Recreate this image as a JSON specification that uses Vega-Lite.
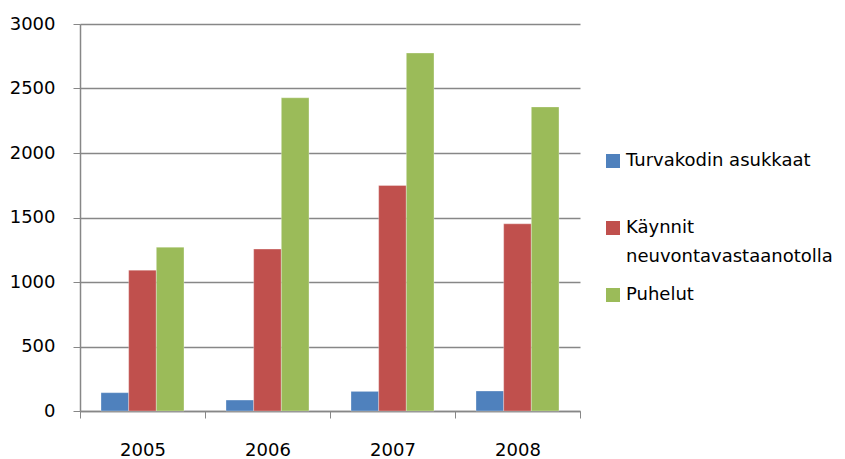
{
  "$schema": "https://vega.github.io/schema/vega-lite/v6.json",
  "width": 500,
  "height": 387,
  "autosize": {"type": "none"},
  "padding": {"left": 80, "top": 24, "right": 265, "bottom": 48},
  "background": "white",
  "config": {
    "view": {"stroke": null},
    "font": "DejaVu Sans",
    "style": {"guide-label": {"lineHeight": 29}},
    "axis": {"labelFont": "DejaVu Sans", "labelFontSize": 18, "labelColor": "#000000", "domainColor": "#878787", "tickColor": "#878787", "gridColor": "#878787"}
  },
  "data": {
    "values": [
      {"year": "2005", "series": "Turvakodin asukkaat", "value": 142},
      {"year": "2005", "series": "Käynnit neuvontavastaanotolla", "value": 1092},
      {"year": "2005", "series": "Puhelut", "value": 1270},
      {"year": "2006", "series": "Turvakodin asukkaat", "value": 85},
      {"year": "2006", "series": "Käynnit neuvontavastaanotolla", "value": 1255},
      {"year": "2006", "series": "Puhelut", "value": 2428},
      {"year": "2007", "series": "Turvakodin asukkaat", "value": 152},
      {"year": "2007", "series": "Käynnit neuvontavastaanotolla", "value": 1748},
      {"year": "2007", "series": "Puhelut", "value": 2775},
      {"year": "2008", "series": "Turvakodin asukkaat", "value": 155},
      {"year": "2008", "series": "Käynnit neuvontavastaanotolla", "value": 1451},
      {"year": "2008", "series": "Puhelut", "value": 2357}
    ]
  },
  "mark": {"type": "bar", "stroke": "white", "strokeWidth": 0.5, "strokeOpacity": 0.6},
  "encoding": {
    "x": {
      "field": "year", "type": "nominal",
      "scale": {"paddingInner": 0, "paddingOuter": 0},
      "axis": {"title": null, "labelAngle": 0, "tickBand": "extent", "tickSize": 7, "labelPadding": 23, "grid": false, "domainWidth": 1.5}
    },
    "xOffset": {
      "field": "series", "type": "nominal",
      "sort": ["Turvakodin asukkaat", "Käynnit neuvontavastaanotolla", "Puhelut"],
      "scale": {"paddingInner": 0, "paddingOuter": 0.76}
    },
    "y": {
      "field": "value", "type": "quantitative",
      "scale": {"domain": [0, 3000]},
      "axis": {"title": null, "format": "d", "values": [0, 500, 1000, 1500, 2000, 2500, 3000], "tickSize": 7, "labelPadding": 18, "grid": true, "gridWidth": 1.5, "domainWidth": 1.5}
    },
    "color": {
      "field": "series", "type": "nominal",
      "sort": ["Turvakodin asukkaat", "Käynnit neuvontavastaanotolla", "Puhelut"],
      "scale": {"domain": ["Turvakodin asukkaat", "Käynnit neuvontavastaanotolla", "Puhelut"], "range": ["#4F81BD", "#C0504D", "#9BBB59"]},
      "legend": {
        "title": null,
        "orient": "none",
        "legendX": 524,
        "legendY": 128,
        "symbolType": "square",
        "symbolSize": 196,
        "symbolStrokeWidth": 0,
        "labelFont": "DejaVu Sans",
        "labelFontSize": 18,
        "labelColor": "#000000",
        "labelLimit": 300,
        "gridAlign": "all",
        "rowPadding": 20,
        "labelOffset": 4,
        "labelExpr": "datum.label == 'Käynnit neuvontavastaanotolla' ? ['Käynnit', 'neuvontavastaanotolla'] : datum.label"
      }
    }
  }
}
